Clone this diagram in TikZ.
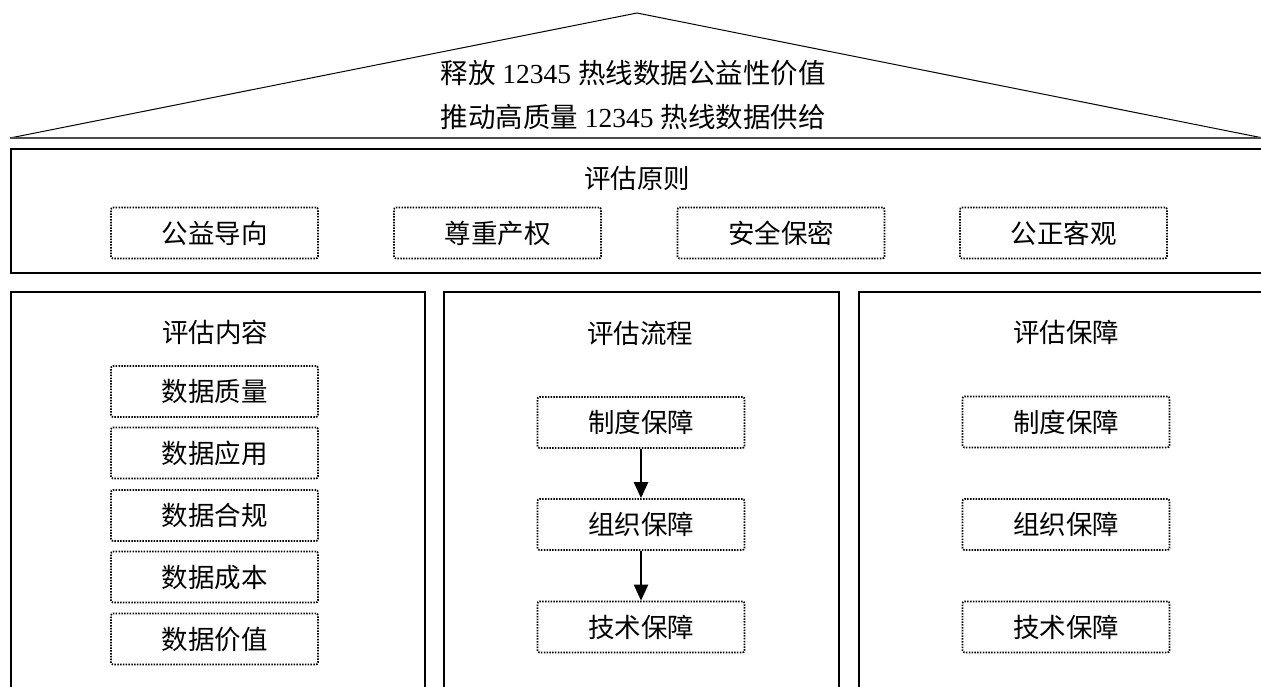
\documentclass[tikz,border=0pt]{standalone}
\usepackage{fontspec}
\setmainfont{Noto Sans CJK SC}
\newfontfamily\lat{Liberation Serif}
\usetikzlibrary{arrows.meta}
\begin{document}
\begin{tikzpicture}[x=1pt,y=-1pt,
  every node/.style={font=\fontsize{26.5}{30}\selectfont, inner sep=0pt},
  goal/.style={font=\fontsize{27.5}{30}\selectfont},
  panel/.style={draw, line width=2.2pt, anchor=north west},
  dotbox/.style={draw, line width=1.7pt, dash pattern=on 1.5pt off 1.3pt,
    minimum width=207pt, minimum height=51pt, rounded corners=2pt},
  roofline/.style={line width=1pt},
  baseline/.style={line width=1.3pt, black!70},
  flow/.style={-{Triangle[length=16pt,width=14pt]}, line width=2.4pt}]
\clip (0,0) rectangle (1261,686);
% roof
\coordinate (roofL) at (10,138);
\coordinate (apex) at (637,13);
\coordinate (roofR) at (1263,138);
\draw[roofline] (roofL) -- (apex) -- (roofR);
\draw[baseline] (roofL) -- (roofR);
\node[goal] (goal1) at (633,73) {释放{\lat\ 12345\ }热线数据公益性价值};
\node[goal] (goal2) at (633,117) {推动高质量{\lat\ 12345\ }热线数据供给};
% principles
\node[panel, minimum width=1300pt, minimum height=124pt] (prin) at (10,148) {};
\node (prinT) at (637,178) {评估原则};
\node[dotbox] (p1) at (214.5,233) {公益导向};
\node[dotbox] (p2) at (497.5,233) {尊重产权};
\node[dotbox] (p3) at (781,233) {安全保密};
\node[dotbox] (p4) at (1063.5,233) {公正客观};
% panels
\node[panel, minimum width=414pt, minimum height=420pt] (left) at (10,291) {};
\node[panel, minimum width=395pt, minimum height=420pt] (mid) at (443,291) {};
\node[panel, minimum width=450pt, minimum height=420pt] (right) at (858,291) {};
\node (leftT) at (215,332) {评估内容};
\node (midT) at (640,333) {评估流程};
\node (rightT) at (1066,332) {评估保障};
% content
\node[dotbox] (c1) at (214.5,391.5) {数据质量};
\node[dotbox] (c2) at (214.5,453) {数据应用};
\node[dotbox] (c3) at (214.5,515.5) {数据合规};
\node[dotbox] (c4) at (214.5,577) {数据成本};
\node[dotbox] (c5) at (214.5,639) {数据价值};
% process
\node[dotbox] (m1) at (641,422.5) {制度保障};
\node[dotbox] (m2) at (641,524.5) {组织保障};
\node[dotbox] (m3) at (641,627) {技术保障};
\draw[flow] (m1) -- (m2);
\draw[flow] (m2) -- (m3);
% guarantees
\node[dotbox] (g1) at (1066,422) {制度保障};
\node[dotbox] (g2) at (1066,524.5) {组织保障};
\node[dotbox] (g3) at (1066,627) {技术保障};
\end{tikzpicture}
\end{document}
